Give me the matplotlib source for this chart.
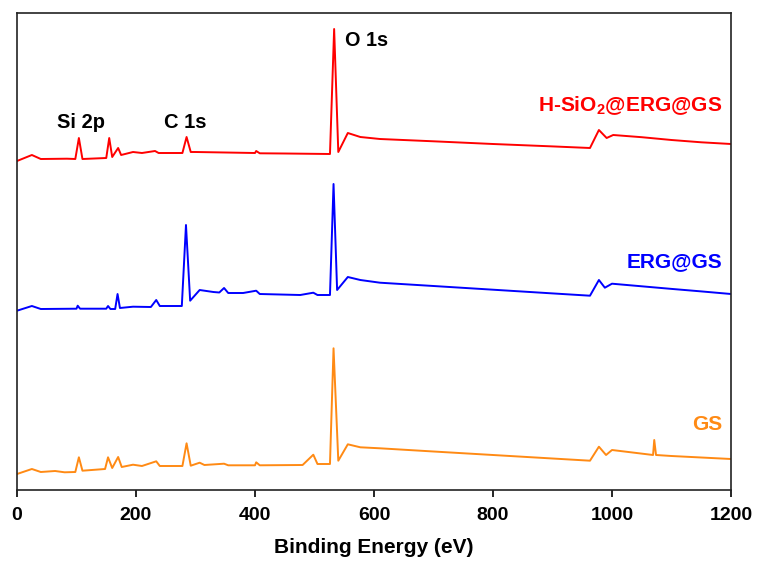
import matplotlib
matplotlib.use("Agg")
import matplotlib.pyplot as plt

plt.rcParams['font.family'] = ['Liberation Sans', 'DejaVu Sans']
plt.rcParams['font.weight'] = 'bold'
plt.rcParams['mathtext.fontset'] = 'custom'
plt.rcParams['mathtext.rm'] = 'Liberation Sans:bold'
plt.rcParams['mathtext.bf'] = 'Liberation Sans:bold'

# ---- data (binding energy in eV, intensity in arbitrary offset units) ----
e_red = [0, 25, 40, 84, 98, 104, 110, 130, 150, 155, 160, 170, 175, 195, 210, 232, 238,
         278, 285, 292, 300, 400, 402, 408, 450, 526, 533, 540, 556, 577, 610, 700, 800,
         900, 963, 978, 991, 1002, 1050, 1100, 1150, 1200]
i_red = [329, 335, 331, 331.3, 331, 352, 331, 331.5, 332, 352, 333, 342, 335, 338, 337, 339, 337,
         337, 353, 338, 338, 337, 339, 336.7, 336.5, 336, 461, 338, 357, 353, 351, 348.7, 346,
         343.6, 342, 360, 352, 355, 352.8, 350, 347.7, 346]

e_blue = [0, 25, 40, 100, 102, 106, 150, 153, 157, 165, 169, 173, 195, 225, 234, 240, 277,
          284, 291, 307, 330, 340, 348, 355, 380, 402, 408, 476, 498, 505, 526, 532, 538,
          556, 577, 610, 700, 800, 900, 963, 978, 988, 1000, 1050, 1100, 1150, 1200]
i_blue = [179.3, 184, 181, 181.3, 184.3, 181.3, 181.3, 184, 181, 181, 196, 182, 183.3, 183, 190, 184, 184,
          265, 189.3, 200, 198, 197.5, 202, 197, 197, 199.3, 196, 195, 197.3, 195, 195, 306, 200,
          213, 210, 207.3, 204, 200.3, 196.6, 194.3, 210, 202.3, 206.3, 203.7, 201.1, 198.6, 196]

e_orange = [0, 25, 40, 64, 80, 98, 104, 110, 148, 153, 160, 170, 176, 195, 210, 234, 240,
            278, 285, 292, 307, 315, 348, 355, 400, 402, 408, 480, 498, 505, 526, 532, 540,
            556, 577, 610, 700, 800, 900, 963, 978, 990, 1000, 1069, 1071, 1074, 1100, 1150, 1200]
i_orange = [16, 21, 18, 19, 17.7, 18, 32.7, 19.3, 21, 32.7, 22, 33, 23, 25.3, 24, 28.7, 24,
            24, 46.7, 24.3, 27.3, 25, 26.3, 24.7, 24.7, 27.7, 24.7, 25, 35.3, 26, 26, 141.7, 29.3,
            45.7, 42.7, 41.7, 38.5, 35, 31.5, 29.3, 43.3, 35, 40, 35, 50, 35, 34, 32.5, 31]

series_names = ['H-SiO$_{2}$@ERG@GS', 'ERG@GS', 'GS']
series_colors = ['#ff0000', '#0000ff', '#ff8a14']
x_ticks = [0, 200, 400, 600, 800, 1000, 1200]

fig = plt.figure(figsize=(7.62, 5.66), dpi=100)
ax = fig.add_axes([17/762, 1 - 490/566, (731-17)/762, (490-13)/566])

for e, i, c in zip([e_red, e_blue, e_orange], [i_red, i_blue, i_orange], series_colors):
    ax.plot(e, i, color=c, lw=1.4)

ax.set_xlim(0, 1200)
ax.set_ylim(0, 477)
ax.set_xticks(x_ticks)
ax.set_xticklabels([str(t) for t in x_ticks], fontsize=14, fontweight='bold')
ax.set_yticks([])
ax.tick_params(axis='x', direction='out', length=5, width=1.2, pad=7)
for s in ax.spines.values():
    s.set_linewidth(1.2)
    s.set_color('#222222')
ax.set_xlabel('Binding Energy (eV)', fontsize=15, fontweight='bold', labelpad=10)

# peak annotations
ax.text(551, 450, 'O 1s', fontsize=14.3, fontweight='bold', ha='left', va='center', color='black')
ax.text(67, 367, 'Si 2p', fontsize=14.5, fontweight='bold', ha='left', va='center', color='black')
ax.text(247, 367, 'C 1s', fontsize=14.5, fontweight='bold', ha='left', va='center', color='black')

# series labels
ax.text(1185, 384, series_names[0], fontsize=15, fontweight='bold', ha='right', va='center', color=series_colors[0])
ax.text(1185, 228, series_names[1], fontsize=15, fontweight='bold', ha='right', va='center', color=series_colors[1])
ax.text(1185, 66, series_names[2], fontsize=15, fontweight='bold', ha='right', va='center', color=series_colors[2])

fig.savefig('out.png', dpi=100)
